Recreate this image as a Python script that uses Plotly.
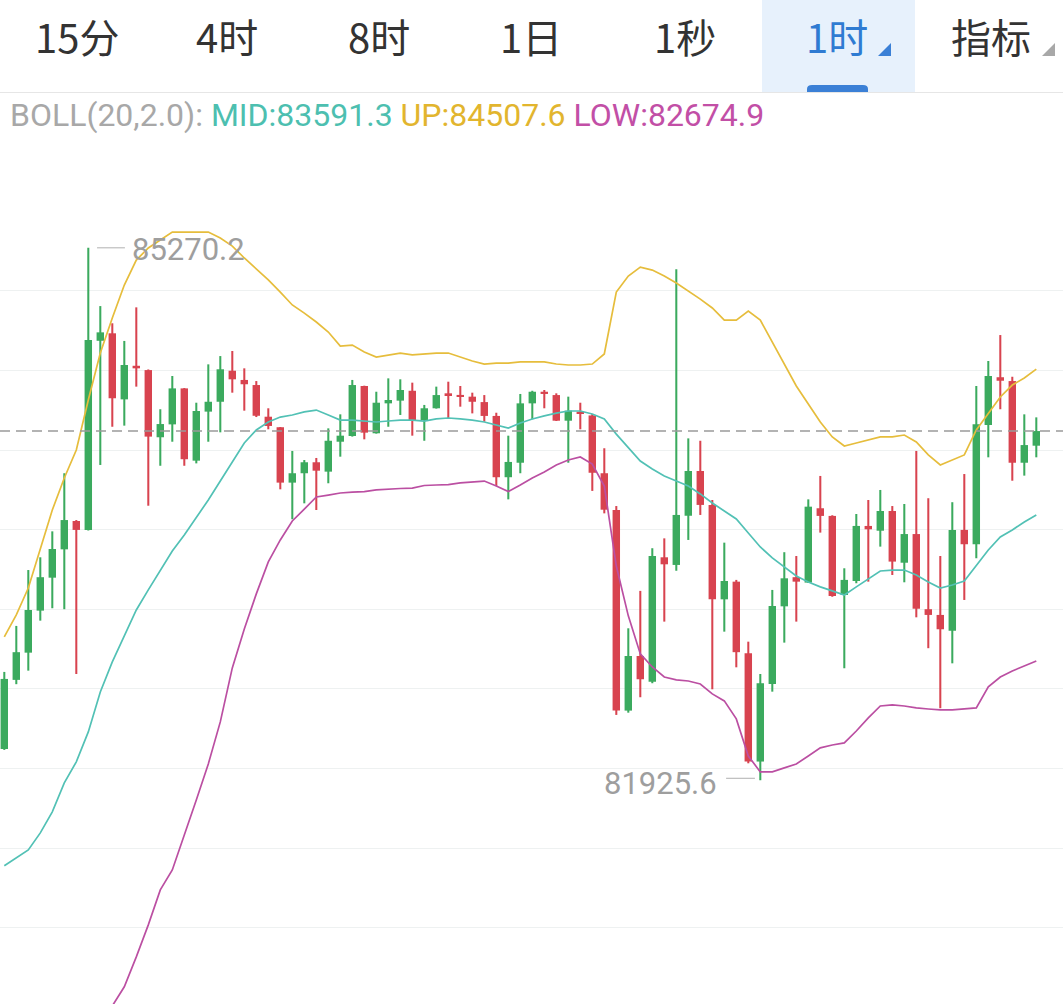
import plotly.graph_objects as go

# ---------------- data (1h candles, BTC) ----------------
opens = [82122, 82556, 82727, 82991, 83198, 83376, 83554, 83498, 84686, 84733,
         84318, 84529, 84502, 84080, 84161, 84387, 83933, 84241, 84303, 84498,
         84440, 84408, 84209, 84143, 83795, 83854, 83923, 83864, 84052, 84088,
         84402, 84105, 84293, 84310, 84372, 84188, 84262, 84356, 84345, 84335,
         84301, 84214, 83829, 83920, 84293, 84366, 84345, 84184, 84241, 84217,
         83854, 83623, 82363, 82706, 82545, 83326, 83278, 83587, 83868, 83655,
         83062, 83173, 82723, 82043, 82530, 83018, 83201, 83167, 83634, 83586,
         83089, 83177, 83523, 83493, 83617, 83292, 83472, 83000, 82964, 82865,
         83498, 83408, 84157, 84457, 84433, 83920, 84027]
highs = [82606, 82895, 83246, 83326, 83489, 83854, 83560, 85270.2, 84904, 84796,
         84685, 84896, 84506, 84256, 84465, 84389, 84297, 84538, 84590, 84622,
         84513, 84433, 84262, 84144, 83994, 83937, 83950, 84136, 84224, 84440,
         84404, 84366, 84450, 84444, 84423, 84283, 84398, 84429, 84402, 84360,
         84345, 84234, 84090, 84352, 84372, 84377, 84356, 84335, 84297, 84226,
         84011, 83648, 82880, 83115, 83383, 83445, 85135, 84073, 84058, 83686,
         83418, 83184, 82796, 82593, 83121, 83358, 83334, 83690, 83837, 83590,
         83257, 83598, 83686, 83749, 83648, 83661, 83994, 83697, 83334, 83672,
         83849, 84402, 84559, 84722, 84460, 84224, 84205]
lows = [82116, 82529, 82614, 82928, 83006, 83000, 82593, 83495, 83906, 84146,
        84153, 84398, 83650, 83901, 84052, 83901, 83916, 84052, 84111, 84360,
        84247, 84207, 84130, 83753, 83565, 83665, 83623, 83791, 83958, 84084,
        84067, 84103, 84146, 84220, 84090, 84058, 84260, 84199, 84272, 84230,
        84178, 83774, 83690, 83854, 84193, 84262, 84182, 83920, 84130, 83743,
        83602, 82336, 82350, 82447, 82535, 82922, 83242, 83435, 83592, 82497,
        82859, 82635, 82032, 81925.6, 82482, 82790, 82922, 83165, 83481, 83078,
        82629, 83163, 83173, 83393, 83215, 83169, 82949, 82755, 82378, 82660,
        83058, 83320, 83954, 84256, 83807, 83839, 83954]
closes = [82562, 82730, 82995, 83201, 83378, 83560, 83498, 84691, 84739, 84325,
          84534, 84513, 84084, 84163, 84387, 83942, 84245, 84303, 84507, 84444,
          84413, 84215, 84151, 83795, 83854, 83923, 83870, 84058, 84090, 84408,
          84109, 84297, 84314, 84377, 84184, 84262, 84345, 84345, 84335, 84303,
          84214, 83829, 83925, 84293, 84366, 84352, 84184, 84247, 84226, 83857,
          83625, 82363, 82706, 82560, 83334, 83282, 83592, 83868, 83655, 83062,
          83177, 82730, 82043, 82535, 83020, 83194, 83173, 83644, 83586, 83083,
          83184, 83523, 83502, 83617, 83299, 83472, 83003, 82964, 82874, 83498,
          83408, 84161, 84465, 84435, 83920, 84031, 84119]

boll_up = [82826, 82964, 83133, 83385, 83623, 83824, 84000, 84314, 84609, 84829,
           85036, 85193, 85269, 85319, 85369, 85369, 85369, 85369, 85331, 85281,
           85206, 85137, 85068, 84992, 84911, 84860, 84804, 84741, 84653, 84659,
           84615, 84584, 84597, 84609, 84597, 84603, 84609, 84609, 84584, 84559,
           84540, 84546, 84546, 84553, 84553, 84553, 84540, 84534, 84534, 84540,
           84603, 84992, 85093, 85149, 85130, 85093, 85049, 84999, 84948, 84892,
           84816, 84816, 84873, 84816, 84678, 84540, 84402, 84289, 84176, 84082,
           84025, 84044, 84063, 84082, 84082, 84094, 84050, 83969, 83906, 83937,
           83969, 84126, 84232, 84333, 84408, 84452, 84507.6]
boll_mid = [81388, 81438, 81488, 81595, 81727, 81909, 82041, 82229, 82480, 82669,
            82832, 82995, 83121, 83246, 83366, 83466, 83573, 83686, 83805, 83925,
            84044, 84126, 84176, 84207, 84220, 84239, 84251, 84220, 84188, 84188,
            84182, 84176, 84182, 84188, 84188, 84182, 84195, 84201, 84195, 84188,
            84176, 84157, 84138, 84170, 84195, 84214, 84232, 84245, 84245, 84226,
            84195, 84100, 84013, 83931, 83881, 83837, 83805, 83774, 83724, 83667,
            83617, 83567, 83479, 83391, 83322, 83265, 83209, 83171, 83140, 83115,
            83089, 83140, 83190, 83240, 83246, 83246, 83215, 83171, 83133, 83152,
            83177, 83278, 83372, 83454, 83498, 83548, 83591.3]
boll_low = [79949, 79912, 79843, 79805, 79830, 79993, 80081, 80144, 80351, 80508,
            80628, 80816, 81017, 81237, 81362, 81576, 81802, 82028, 82292, 82631,
            82876, 83096, 83297, 83435, 83554, 83629, 83705, 83717, 83730, 83736,
            83739, 83749, 83755, 83758, 83761, 83777, 83780, 83783, 83793, 83799,
            83805, 83774, 83739, 83780, 83824, 83862, 83906, 83937, 83956, 83912,
            83774, 83271, 82958, 82719, 82637, 82574, 82556, 82549, 82530, 82468,
            82424, 82311, 82078, 81978, 81978, 82003, 82028, 82078, 82129, 82147,
            82160, 82235, 82317, 82392, 82399, 82392, 82380, 82373, 82367, 82367,
            82373, 82380, 82512, 82574, 82612, 82644, 82674.9]

grid_levels = [81000, 81500, 82000, 82500, 83000, 83500, 84000, 84500, 85000]
tabs = ["15分", "4时", "8时", "1日", "1秒", "1时", "指标"]
tab_centers = [77, 227, 379, 531, 685, 837, 991]
active_tab = "1时"

# ---------------- styling ----------------
W, H = 1063, 1004
GREEN = "#3BAA5E"
RED = "#D8434F"
C_UP = "#E6BD3C"
C_MID = "#52C1B5"
C_LOW = "#BB4FA2"
GRAY_TXT = "#9E9E9E"


def px(x):
    return x / W


def py(y):
    return 1 - y / H


n = len(closes)
xs = list(range(n))
colors = [GREEN if c >= o else RED for o, c in zip(opens, closes)]
body_base = [min(o, c) for o, c in zip(opens, closes)]
body_len = [max(abs(c - o), 11) for o, c in zip(opens, closes)]
wick_len = [h - l for h, l in zip(highs, lows)]

fig = go.Figure()
fig.add_trace(go.Bar(x=xs, y=wick_len, base=lows, width=0.17,
                     marker=dict(color=colors, line=dict(width=0)),
                     hoverinfo="skip"))
fig.add_trace(go.Bar(x=xs, y=body_len, base=body_base, width=0.62,
                     marker=dict(color=colors, line=dict(width=0)),
                     hoverinfo="skip"))
for vals, col in [(boll_low, C_LOW), (boll_mid, C_MID), (boll_up, C_UP)]:
    fig.add_trace(go.Scatter(x=xs, y=vals, mode="lines",
                             line=dict(color=col, width=1.7), hoverinfo="skip"))

shapes = []
# current price dashed line
shapes.append(dict(type="line", xref="paper", yref="y", x0=0, x1=1,
                   y0=closes[-1], y1=closes[-1],
                   line=dict(color="#9A9A9A", width=1.6, dash="10px,6px")))

# header
shapes.append(dict(type="rect", xref="paper", yref="paper", x0=0, x1=1,
                   y0=py(92), y1=1, fillcolor="white", line=dict(width=0), layer="above"))
ai = tabs.index(active_tab)
cx = tab_centers[ai]
shapes.append(dict(type="rect", xref="paper", yref="paper", x0=px(cx - 75), x1=px(cx + 78),
                   y0=py(92), y1=1, fillcolor="#E7F1FC", line=dict(width=0), layer="above"))
shapes.append(dict(type="path", xref="paper", yref="paper", layer="above",
                   path=f"M {px(cx-30)} {py(92)} L {px(cx-30)} {py(89)} Q {px(cx-30)} {py(85)} {px(cx-25)} {py(85)} "
                        f"L {px(cx+26)} {py(85)} Q {px(cx+31)} {py(85)} {px(cx+31)} {py(89)} L {px(cx+31)} {py(92)} Z",
                   fillcolor="#3B80D6", line=dict(width=0)))
shapes.append(dict(type="line", xref="paper", yref="paper", x0=0, x1=1, y0=py(92.5), y1=py(92.5),
                   line=dict(color="#E6E6E6", width=1.2), layer="above"))
# small dropdown triangles
for tx, col in [(cx + 41, "#3B80D6"), (tab_centers[-1] + 51, "#A8A8A8")]:
    shapes.append(dict(type="path", xref="paper", yref="paper", layer="above",
                       path=f"M {px(tx)} {py(56)} L {px(tx+13)} {py(56)} L {px(tx+13)} {py(43)} Z",
                       fillcolor=col, line=dict(width=0)))

annotations = []
for t, c in zip(tabs, tab_centers):
    annotations.append(dict(text=t, xref="paper", yref="paper", x=px(c), y=py(36),
                            xanchor="center", yanchor="middle", showarrow=False,
                            font=dict(family="Noto Sans CJK SC", size=40,
                                      color="#2F7BD2" if t == active_tab else "#333333")))

boll_txt = (f"<span style='color:#A8A8A8'>BOLL(20,2.0): </span>"
            f"<span style='color:#4DBFB0'>MID:{boll_mid[-1]:.1f}</span> "
            f"<span style='color:#E2B52E'>UP:{boll_up[-1]:.1f}</span> "
            f"<span style='color:#C24FA6'>LOW:{boll_low[-1]:.1f}</span>")
annotations.append(dict(text=boll_txt, xref="paper", yref="paper", x=px(8), y=py(115),
                        xanchor="left", yanchor="middle", showarrow=False,
                        font=dict(family="Roboto", size=32, color="#A8A8A8")))

# max / min labels
imax = max(range(n), key=lambda i: highs[i])
imin = min(range(n), key=lambda i: lows[i])
annotations.append(dict(text=f"{highs[imax]:.1f}", xref="x", yref="y", x=imax, y=highs[imax],
                        xanchor="left", yanchor="middle", xshift=42, yshift=-2, showarrow=False,
                        font=dict(family="Roboto", size=31, color=GRAY_TXT)))
shapes.append(dict(type="line", xref="x", yref="y", x0=imax + 0.73, x1=imax + 3.05,
                   y0=highs[imax], y1=highs[imax], line=dict(color="#BDBDBD", width=1.2)))
annotations.append(dict(text=f"{lows[imin]:.1f}", xref="x", yref="y", x=imin, y=lows[imin],
                        xanchor="right", yanchor="middle", xshift=-41, yshift=-3, showarrow=False,
                        font=dict(family="Roboto", size=31, color=GRAY_TXT)))
shapes.append(dict(type="line", xref="x", yref="y", x0=imin - 2.85, x1=imin - 0.45,
                   y0=lows[imin] + 12, y1=lows[imin] + 12, line=dict(color="#BDBDBD", width=1.2)))

fig.update_layout(
    width=W, height=H, margin=dict(l=0, r=0, t=0, b=0),
    paper_bgcolor="white", plot_bgcolor="white",
    showlegend=False, barmode="overlay",
    xaxis=dict(range=[-0.358, 88.225], visible=False, fixedrange=True),
    yaxis=dict(range=[80520.1, 86826.6], tickvals=grid_levels, showticklabels=False,
               showgrid=True, gridcolor="#EEF1F1", gridwidth=1, zeroline=False,
               showline=False, fixedrange=True),
    shapes=shapes, annotations=annotations,
)

fig.write_html("out.html", config={"displayModeBar": False},
               post_script="document.body.style.margin='0';document.body.style.overflow='hidden';")
